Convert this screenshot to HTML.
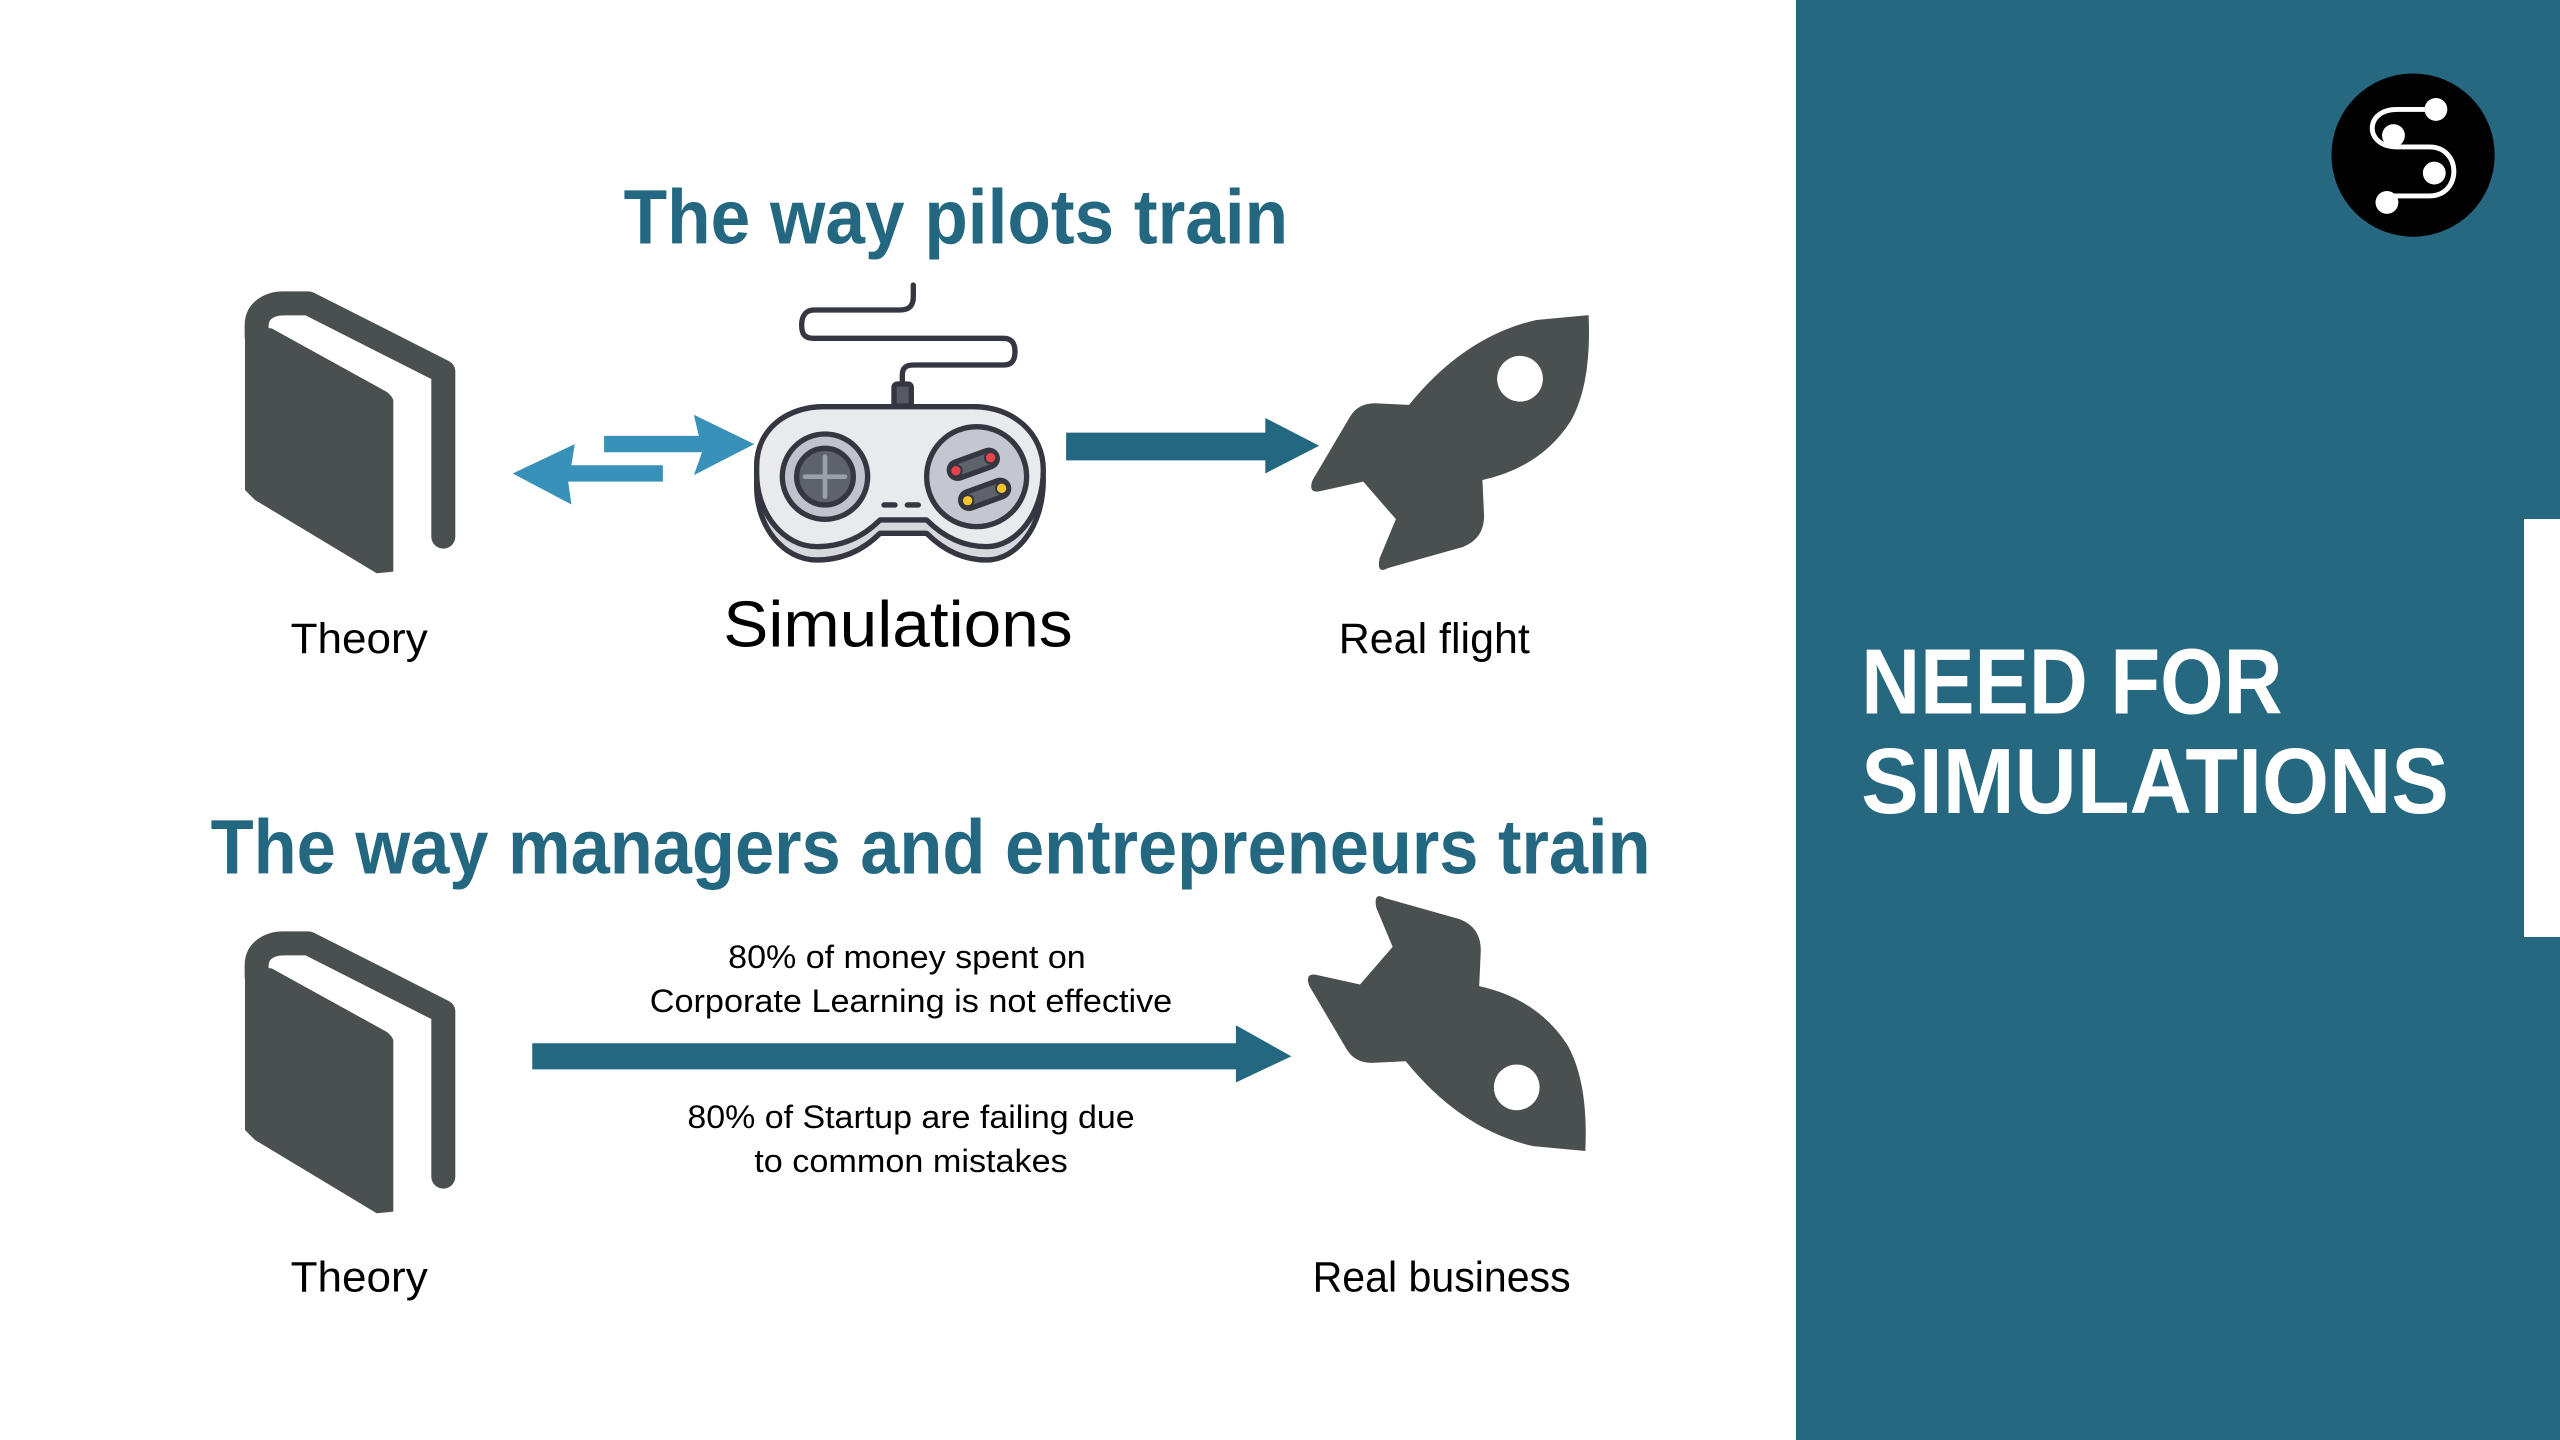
<!DOCTYPE html>
<html><head><meta charset="utf-8"><style>
html,body{margin:0;padding:0;background:#fff;width:2560px;height:1440px;overflow:hidden}
svg{display:block}
text{font-family:"Liberation Sans",sans-serif}
</style></head><body>
<svg width="2560" height="1440" viewBox="0 0 2560 1440" xmlns="http://www.w3.org/2000/svg">
<rect x="0" y="0" width="2560" height="1440" fill="#fff"/>
<rect x="1796" y="0" width="764" height="1440" fill="#256880"/>
<rect x="2524" y="519" width="36" height="418" fill="#fff"/>

<!-- book 1 -->
<g transform="translate(230,280) scale(0.3333)">
  <path d="M80,170 L80,135 C80,95 115,70 160,70 L235,70 L640,275 L640,770" fill="none" stroke="#4a5050" stroke-width="72" stroke-linecap="round" stroke-linejoin="round"/>
  <path d="M45,140 L45,630 L75,660 L440,880 L490,875 L490,360 Q482,340 460,330 L125,145 Z" fill="#4a5050"/>
</g>
<!-- book 2 -->
<g transform="translate(230,920) scale(0.3333)">
  <path d="M80,170 L80,135 C80,95 115,70 160,70 L235,70 L640,275 L640,770" fill="none" stroke="#4a5050" stroke-width="72" stroke-linecap="round" stroke-linejoin="round"/>
  <path d="M45,140 L45,630 L75,660 L440,880 L490,875 L490,360 Q482,340 460,330 L125,145 Z" fill="#4a5050"/>
</g>

<!-- controller -->
<g transform="translate(740,280) scale(0.3333)" stroke="#343640" stroke-width="16" stroke-linejoin="round" stroke-linecap="round">
  <path d="M487,320 L487,285 C487,262 500,255 520,255 L790,255 C818,255 825,238 825,215 C825,190 815,175 790,175 L220,175 C192,175 185,160 185,135 C185,105 200,90 222,90 L480,90 C510,90 520,75 520,50 L520,15" fill="none"/>
  <rect x="462" y="312" width="52" height="66" rx="10" fill="#555a63"/>
  <path d="M50,560 C50,440 150,380 250,380 L700,380 C820,380 910,460 910,600 C910,740 830,840 740,840 C660,840 600,800 560,760 L420,760 C380,800 320,840 230,840 C130,840 50,740 50,620 Z" fill="#d6d8dd"/>
  <path d="M50,560 C50,440 150,380 250,380 L700,380 C820,380 910,460 910,570 C910,700 830,800 740,800 C660,800 600,760 560,720 L420,720 C380,760 320,800 230,800 C130,800 50,700 50,580 Z" fill="#e9eaee"/>
  <circle cx="255" cy="590" r="128" fill="#c0c3c9"/>
  <circle cx="255" cy="590" r="85" fill="#5d626b"/>
  <path d="M255,530 L255,650 M195,590 L315,590" stroke="#9ca0a7" stroke-width="14"/>
  <circle cx="710" cy="590" r="150" fill="#c4c7cd"/>
  <g transform="rotate(-20 700 553)"><rect x="625" y="528" width="150" height="50" rx="25" fill="#5d626b"/></g>
  <g transform="rotate(-20 734 643)"><rect x="659" y="618" width="150" height="50" rx="25" fill="#5d626b"/></g>
  <circle cx="648" cy="572" r="17" fill="#e8434f" stroke-width="6"/>
  <circle cx="752" cy="533" r="17" fill="#e8434f" stroke-width="6"/>
  <circle cx="683" cy="662" r="17" fill="#f5c531" stroke-width="6"/>
  <circle cx="785" cy="625" r="17" fill="#f5c531" stroke-width="6"/>
  <path d="M432,675 L465,675 M502,675 L535,675"/>
</g>

<g transform="scale(1.63265)">
  <text x="382" y="149" font-size="47" font-weight="bold" fill="#236880" textLength="407" lengthAdjust="spacingAndGlyphs">The way pilots train</text>
  <text x="129" y="535" font-size="47" font-weight="bold" fill="#236880" textLength="882" lengthAdjust="spacingAndGlyphs">The way managers and entrepreneurs train</text>

  <path d="M370,267 L428,267 L425,254 L462,272 L425,291 L430,277 L370,277 Z" fill="#3891b8"/>
  <path d="M406,285 L350,285 L352,272 L314,290 L350,309 L348,295 L406,295 Z" fill="#3891b8"/>
  <path d="M653,265 L775,265 L775,256 L808,273 L775,290 L775,282 L653,282 Z" fill="#236880"/>
  <path d="M326,639 L757,639 L757,628 L791,647 L757,663 L757,655 L326,655 Z" fill="#236880"/>

  <g>
    <path d="M848,550 Q841,546 843,556 L853,580 L833,603 L806,597 Q799,596 802,604 L825,643 Q830,651 840,651 L861,650 Q895,692 939,702 L971,705 Q973,663 960,640 Q942,612 906,604 L907,582 Q907,568 894,563 Z" fill="#4a5050"/>
    <circle cx="929" cy="666" r="14" fill="#fff"/>
  </g>
  <g transform="translate(2,898) scale(1,-1)">
    <path d="M848,550 Q841,546 843,556 L853,580 L833,603 L806,597 Q799,596 802,604 L825,643 Q830,651 840,651 L861,650 Q895,692 939,702 L971,705 Q973,663 960,640 Q942,612 906,604 L907,582 Q907,568 894,563 Z" fill="#4a5050"/>
    <circle cx="929" cy="666" r="14" fill="#fff"/>
  </g>

  <text x="178" y="400" font-size="26" fill="#000" textLength="84" lengthAdjust="spacingAndGlyphs">Theory</text>
  <text x="443" y="396" font-size="40" fill="#000" textLength="214" lengthAdjust="spacingAndGlyphs">Simulations</text>
  <text x="820" y="400" font-size="26" fill="#000" textLength="117" lengthAdjust="spacingAndGlyphs">Real flight</text>
  <text x="178" y="791" font-size="26" fill="#000" textLength="84" lengthAdjust="spacingAndGlyphs">Theory</text>
  <text x="804" y="791" font-size="26" fill="#000" textLength="158" lengthAdjust="spacingAndGlyphs">Real business</text>
  <text x="446" y="593" font-size="20" fill="#000" textLength="219" lengthAdjust="spacingAndGlyphs">80% of money spent on</text>
  <text x="398" y="620" font-size="20" fill="#000" textLength="320" lengthAdjust="spacingAndGlyphs">Corporate Learning is not effective</text>
  <text x="421" y="691" font-size="20" fill="#000" textLength="274" lengthAdjust="spacingAndGlyphs">80% of Startup are failing due</text>
  <text x="462" y="718" font-size="20" fill="#000" textLength="192" lengthAdjust="spacingAndGlyphs">to common mistakes</text>

  <text x="1140" y="437" font-size="57" font-weight="bold" fill="#fff" textLength="258" lengthAdjust="spacingAndGlyphs">NEED FOR</text>
  <text x="1140" y="498" font-size="57" font-weight="bold" fill="#fff" textLength="360" lengthAdjust="spacingAndGlyphs">SIMULATIONS</text>

  <circle cx="1478" cy="95" r="50" fill="#000"/>
  <path d="M1492,67 L1468,67 C1448,67 1448,90 1468,90 L1488,90 C1508,90 1508,120 1488,120 L1462,120" fill="none" stroke="#fff" stroke-width="3"/>
  <circle cx="1492" cy="67" r="7" fill="#fff"/>
  <circle cx="1466" cy="83" r="7" fill="#fff"/>
  <circle cx="1491" cy="106" r="7" fill="#fff"/>
  <circle cx="1462" cy="124" r="7" fill="#fff"/>
</g>
</svg>
</body></html>
